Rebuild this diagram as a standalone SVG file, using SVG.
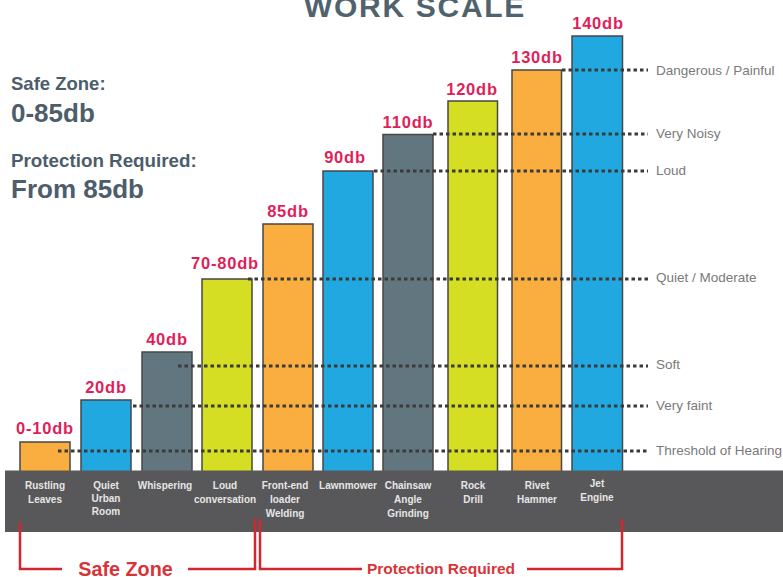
<svg xmlns="http://www.w3.org/2000/svg" width="783" height="577" viewBox="0 0 783 577">
<style>
.title{font-family:"Liberation Sans",Arial,sans-serif;font-weight:bold;fill:#4f626e}
.side{font-family:"Liberation Sans",Arial,sans-serif;font-weight:bold;fill:#4d5d6b}
.val{font-family:"Liberation Sans",Arial,sans-serif;font-weight:bold;font-size:16.5px;letter-spacing:0.8px;fill:#df1f5a;text-anchor:middle}
.lvl{font-family:"Liberation Sans",Arial,sans-serif;font-size:13.5px;fill:#7a7a7a}
.src{font-family:"Liberation Sans",Arial,sans-serif;font-weight:bold;font-size:10px;fill:#e6e6e6;text-anchor:middle}
.zone{font-family:"Liberation Sans",Arial,sans-serif;font-weight:bold;fill:#d7343a;text-anchor:middle}
.bar{stroke:#474747;stroke-width:1.5}
.orange{fill:#f9ae3f}.blue{fill:#22a8e0}.gray{fill:#627680}.yellow{fill:#d5de22}
.dot{stroke:#3a3a3a;stroke-width:3;stroke-dasharray:3.5 3;fill:none}
.br{stroke:#d2272e;stroke-width:2.5;fill:none}
</style>
<rect width="783" height="577" fill="#ffffff"/>
<text class="title" x="415" y="17" font-size="30" letter-spacing="1.7" text-anchor="middle">WORK SCALE</text>
<g id="legend">
<text class="side" x="11" y="90" font-size="18.5">Safe Zone:</text>
<text class="side" x="11" y="122" font-size="26">0-85db</text>
<text class="side" x="11" y="167" font-size="18.8">Protection Required:</text>
<text class="side" x="11" y="198" font-size="26">From 85db</text>
</g>
<g id="bar-rustling"><rect class="bar orange" x="20" y="442" width="50" height="40"/><text class="val" x="45" y="434">0-10db</text></g>
<g id="bar-quiet"><rect class="bar blue" x="81" y="400" width="50" height="82"/><text class="val" x="106" y="393">20db</text></g>
<g id="bar-whisper"><rect class="bar gray" x="142" y="352" width="50" height="130"/><text class="val" x="167" y="345">40db</text></g>
<g id="bar-conversation"><rect class="bar yellow" x="202" y="279" width="50" height="203"/><text class="val" x="225" y="269">70-80db</text></g>
<g id="bar-loader"><rect class="bar orange" x="263" y="224" width="50" height="258"/><text class="val" x="288" y="217">85db</text></g>
<g id="bar-lawnmower"><rect class="bar blue" x="323" y="171" width="50" height="311"/><text class="val" x="345" y="163">90db</text></g>
<g id="bar-chainsaw"><rect class="bar gray" x="383" y="134.5" width="50" height="347"/><text class="val" x="408" y="128">110db</text></g>
<g id="bar-drill"><rect class="bar yellow" x="448" y="101" width="49.5" height="381"/><text class="val" x="472" y="95">120db</text></g>
<g id="bar-rivet"><rect class="bar orange" x="512" y="70" width="49.5" height="412"/><text class="val" x="537" y="63">130db</text></g>
<g id="bar-jet"><rect class="bar blue" x="572" y="36" width="50.5" height="446"/><text class="val" x="598" y="29">140db</text></g>
<g id="connectors">
<line class="dot" x1="562" y1="70" x2="648" y2="70"/>
<line class="dot" x1="433" y1="134" x2="648" y2="134"/>
<line class="dot" x1="374" y1="171" x2="648" y2="171"/>
<line class="dot" x1="248" y1="279" x2="648" y2="279"/>
<line class="dot" x1="178" y1="366" x2="648" y2="366"/>
<line class="dot" x1="133" y1="406" x2="648" y2="406"/>
<line class="dot" x1="58" y1="451" x2="648" y2="451"/>
</g>
<g id="levels">
<text class="lvl" x="656" y="75">Dangerous / Painful</text>
<text class="lvl" x="656" y="138">Very Noisy</text>
<text class="lvl" x="656" y="175">Loud</text>
<text class="lvl" x="656" y="282">Quiet / Moderate</text>
<text class="lvl" x="656" y="369">Soft</text>
<text class="lvl" x="656" y="410">Very faint</text>
<text class="lvl" x="656" y="455">Threshold of Hearing</text>
</g>
<g id="band">
<rect x="5" y="470.5" width="778" height="61.5" fill="#58585a"/>
<text class="src" x="45" y="489">Rustling<tspan x="45" dy="14">Leaves</tspan></text>
<text class="src" x="106" y="489">Quiet<tspan x="106" dy="13">Urban</tspan><tspan x="106" dy="13">Room</tspan></text>
<text class="src" x="165" y="489">Whispering</text>
<text class="src" x="225" y="489">Loud<tspan x="225" dy="14">conversation</tspan></text>
<text class="src" x="285" y="489">Front-end<tspan x="285" dy="14">loader</tspan><tspan x="285" dy="14">Welding</tspan></text>
<text class="src" x="348" y="489">Lawnmower</text>
<text class="src" x="408" y="489">Chainsaw<tspan x="408" dy="14">Angle</tspan><tspan x="408" dy="14">Grinding</tspan></text>
<text class="src" x="473" y="489">Rock<tspan x="473" dy="14">Drill</tspan></text>
<text class="src" x="537" y="489">Rivet<tspan x="537" dy="14">Hammer</tspan></text>
<text class="src" x="597" y="487">Jet<tspan x="597" dy="14">Engine</tspan></text>
</g>
<g id="safe-zone">
<polyline class="br" points="20,522 20,569 62,569"/>
<polyline class="br" points="188,569 255,569 255,519"/>
<text class="zone" x="125.5" y="576" font-size="19.8">Safe Zone</text>
</g>
<g id="protection-zone">
<polyline class="br" points="260,519 260,569 362,569"/>
<polyline class="br" points="527,569 622,569 622,519"/>
<text class="zone" x="441" y="574" font-size="15.5">Protection Required</text>
</g>
</svg>
